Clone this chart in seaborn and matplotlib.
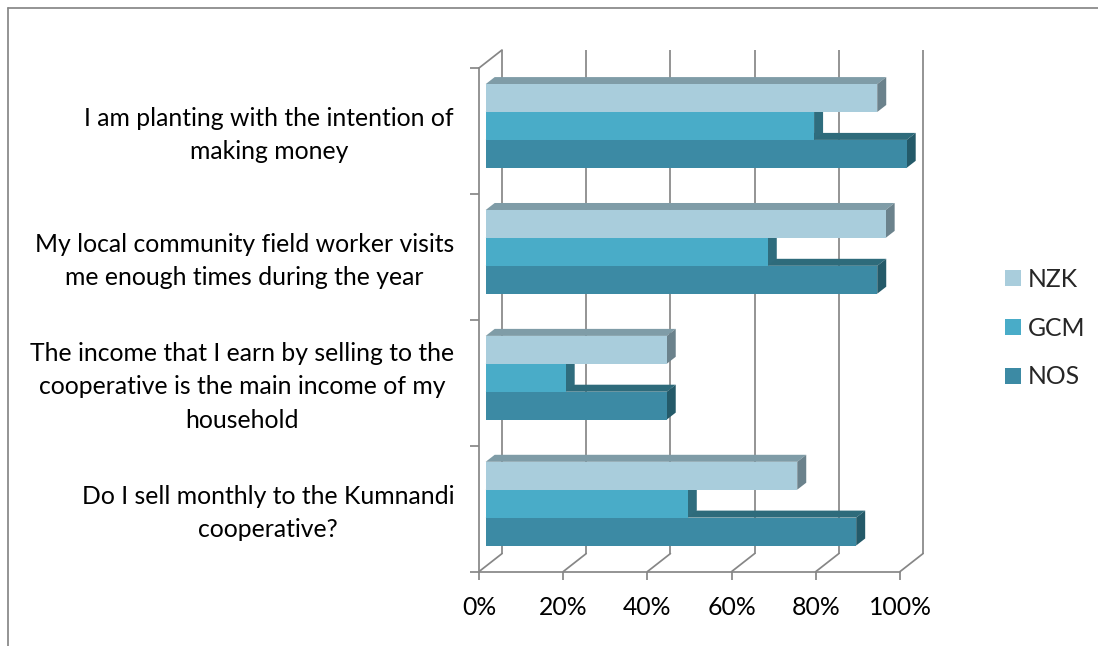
#!/usr/bin/env python3
"""Stacked-depth horizontal bar chart of survey answers per cooperative."""
import matplotlib

matplotlib.use("Agg")
import matplotlib.pyplot as plt
import pandas as pd
import seaborn as sns
from matplotlib.lines import Line2D
from matplotlib.patches import Polygon
from matplotlib.transforms import Affine2D, IdentityTransform

QUESTIONS = [
    "I am planting with the intention of\nmaking money",
    "My local community field worker visits\nme enough times during the year",
    "The income that I earn by selling to the\ncooperative is the main income of my\nhousehold",
    "Do I sell monthly to the Kumnandi\ncooperative?",
]
SERIES = ["NZK", "GCM", "NOS"]
NZK = [93, 95, 43, 74]
GCM = [78, 67, 19, 48]
NOS = [100, 93, 43, 88]
X_TICKS = [0, 20, 40, 60, 80, 100]

FRONT = {"NZK": "#a9cddc", "GCM": "#49acc8", "NOS": "#3c8aa4"}
TOP = {"NZK": "#7f9ca7", "GCM": "#37808f", "NOS": "#2e6b7b"}
SIDE = {"NZK": "#6b828c", "GCM": "#2f6d7e", "NOS": "#245a69"}
GREY = "#868686"
LW = 1.25

W, H = 1098, 646
WALL_DX, WALL_DY = 23, 18  # px offset of back wall from front plane
BAR_DX, BAR_DY = 6.7, 5  # px offset of bar fronts from front plane
FACE_DX, FACE_DY = 9, 7  # px depth of the bars themselves

df = pd.DataFrame(
    {
        "question": QUESTIONS * 3,
        "series": [s for s in SERIES for _ in QUESTIONS],
        "value": NZK + GCM + NOS,
    }
)

sns.set_style("white")
plt.rcParams["font.family"] = ["Lato", "DejaVu Sans"]
FS = 17.8

fig = plt.figure(figsize=(W / 100, H / 100), dpi=100)
ax = fig.add_axes([479 / W, (H - 571.6) / H, 421 / W, 503.6 / H])

sns.barplot(
    data=df,
    y="question",
    x="value",
    hue="series",
    order=QUESTIONS,
    hue_order=SERIES,
    palette=FRONT,
    saturation=1,
    width=0.665,
    gap=0,
    orient="h",
    linewidth=0,
    ax=ax,
)
ax.set_xlim(0, 100)
ax.set_ylim(3.5, -0.5)
ax.set_xlabel("")
ax.set_ylabel("")
ax.set_facecolor("none")

# 3D look: shift fronts back a bit and add top and side faces
shift = Affine2D().translate(BAR_DX, BAR_DY)
for i, (name, bars) in enumerate(zip(SERIES, ax.containers)):
    z = 10 - 2 * i
    for bar in bars:
        (x0, y0), (x1, y1) = ax.transData.transform(
            [(bar.get_x(), bar.get_y()), (bar.get_x() + bar.get_width(), bar.get_y() + bar.get_height())]
        )
        # the category axis runs downwards, so sort the pixel edges
        x0, x1 = x0 + BAR_DX, x1 + BAR_DX
        top, low = max(y0, y1) + BAR_DY, min(y0, y1) + BAR_DY
        ax.add_patch(
            Polygon(
                [(x0, top), (x1, top), (x1 + FACE_DX, top + FACE_DY), (x0 + FACE_DX, top + FACE_DY)],
                transform=IdentityTransform(),
                facecolor=TOP[name],
                edgecolor="none",
                clip_on=False,
                zorder=z,
            )
        )
        ax.add_patch(
            Polygon(
                [(x1, low), (x1 + FACE_DX, low + FACE_DY), (x1 + FACE_DX, top + FACE_DY), (x1, top)],
                transform=IdentityTransform(),
                facecolor=SIDE[name],
                edgecolor="none",
                clip_on=False,
                zorder=z,
            )
        )
        bar.set_transform(ax.transData + shift)
        bar.set_clip_on(False)
        bar.set_zorder(z + 1)

# back wall and floor
wall = ax.transData + Affine2D().translate(WALL_DX, WALL_DY)
ax.vlines(X_TICKS, -0.5, 3.5, colors=GREY, lw=LW, transform=wall, clip_on=False, zorder=1)
for tick in X_TICKS:
    px, py = ax.transData.transform((tick, 3.5))
    ax.add_line(
        Line2D(
            [px, px + WALL_DX], [py, py + WALL_DY],
            color=GREY, lw=LW, transform=IdentityTransform(), clip_on=False, zorder=1,
        )
    )
px, py = ax.transData.transform((0, -0.5))
ax.add_line(
    Line2D(
        [px, px + WALL_DX], [py, py + WALL_DY],
        color=GREY, lw=LW, transform=IdentityTransform(), clip_on=False, zorder=1,
    )
)

for side in ("top", "right"):
    ax.spines[side].set_visible(False)
for side in ("left", "bottom"):
    ax.spines[side].set_color(GREY)
    ax.spines[side].set_linewidth(LW)

ax.set_xticks(X_TICKS)
ax.set_xticklabels([f"{t}%" for t in X_TICKS], fontsize=FS, color="black")
ax.tick_params(axis="x", length=6, width=LW, color=GREY, pad=11.5, bottom=True)

ax.set_yticks(range(len(QUESTIONS)))
ax.set_yticklabels(QUESTIONS, fontsize=FS, color="black", ma="center", linespacing=1.55)
ax.set_yticks([-0.5, 0.5, 1.5, 2.5, 3.5], minor=True)
ax.tick_params(axis="y", which="major", length=0, pad=18)
ax.tick_params(axis="y", which="minor", length=6.5, width=LW, color=GREY, left=True)
for label in ax.get_yticklabels():
    label.set_transform(label.get_transform() + Affine2D().translate(0, 3))

ax.legend(
    loc="center left",
    bbox_to_anchor=(983 / W, (H - 328) / H),
    bbox_transform=fig.transFigure,
    frameon=False,
    fontsize=FS,
    handlelength=0.62,
    handleheight=0.62,
    handletextpad=0.3,
    labelspacing=1.05,
    title=None,
)

# chart frame, cut off at the right and bottom in the source
fig.add_artist(Line2D([8 / W, 1], [(H - 7.5) / H] * 2, color=GREY, lw=LW))
fig.add_artist(Line2D([8 / W] * 2, [0, (H - 7.5) / H], color=GREY, lw=LW))

fig.savefig("out.png", dpi=100, facecolor="white")
